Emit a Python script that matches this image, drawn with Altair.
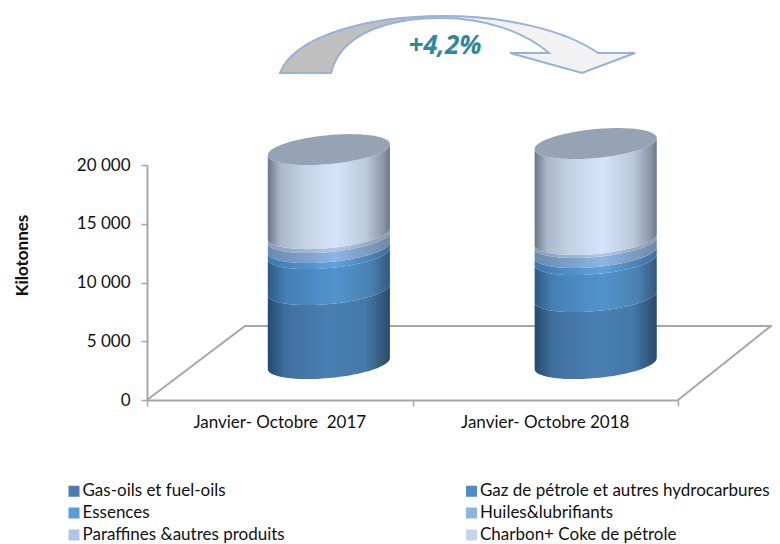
import math
import altair as alt
import pandas as pd

FONT = "Lato"
periods = ["Janvier- Octobre \u00a02017", "Janvier- Octobre 2018"]
label_pos = [0.5, 1.5]
cyl_center = [0.685, 1.69]
cyl_half = 0.23
series = ["Gas-oils et fuel-oils", "Gaz de pétrole et autres hydrocarbures", "Essences",
          "Huiles&lubrifiants", "Paraffines &autres produits", "Charbon+ Coke de pétrole"]
legend_order = [series[0], series[2], series[4], series[1], series[3], series[5]]
v2017 = [6300, 3060, 510, 850, 340, 7150]
v2018 = [5700, 3150, 600, 850, 255, 8170]
base_offset = 3100
legend_colors = ["#4a7bac", "#5b9bd5", "#adc6e5", "#4f8cc4", "#8eb4e0", "#c5d5ea"]
gradients = [
    [(0, "#254a6e"), (.15, "#3f709f"), (.5, "#4a7fb3"), (.8, "#4479a9"), (1, "#2c4a69")],
    [(0, "#2d5a85"), (.15, "#4580b4"), (.55, "#5293cd"), (.85, "#4a80b0"), (1, "#32587c")],
    [(0, "#3d78ae"), (.55, "#5ea3e0"), (1, "#3f6f9c")],
    [(0, "#6a89ad"), (.55, "#8eb4e3"), (1, "#6f8aa8")],
    [(0, "#8a9cb3"), (.55, "#b0c7e4"), (1, "#8898ad")],
    [(0, "#6b7686"), (.1, "#aab8ca"), (.3, "#c4d2e6"), (.55, "#d5e4fa"), (.8, "#bccadd"), (.95, "#8a96a8"), (1, "#6d7686")],
]
tilt = 5.5 * 85.1
sag = 14.5 * 85.1
ts = [-math.cos(math.pi * i / 60) for i in range(61)]

def grad(stops):
    return alt.LinearGradient(gradient="linear", x1=0, y1=0, x2=1, y2=0,
                              stops=[alt.GradientStop(offset=o, color=c) for o, c in stops])

rows, caps = [], []
for cyl, (center, vals) in enumerate(zip(cyl_center, [v2017, v2018])):
    low = base_offset
    for s, v in zip(series, vals):
        for t in ts:
            d = tilt * t - sag * math.sqrt(1 - t * t)
            rows.append(dict(s=s, c=cyl, x=center + cyl_half * t, y=low + d, y2=low + v + d))
        low += v
    for t in ts:
        r = math.sqrt(1 - t * t)
        caps.append(dict(c=cyl, x=center + cyl_half * t,
                         y=low + tilt * t - sag * r, y2=low + tilt * t + sag * r))
df = pd.DataFrame(rows)
X = alt.Scale(domain=[0, 2])
Y = alt.Scale(domain=[0, 20000])
GRAY = "#a6a6a6"

xenc = alt.X("x:Q", scale=X, axis=alt.Axis(values=[0, 1, 2], labels=False, title=None, grid=False,
                                           domainColor=GRAY, domainWidth=2, tickColor=GRAY, tickSize=6, tickWidth=1.5))
yenc = alt.Y("y:Q", scale=Y, axis=alt.Axis(values=[0, 5000, 10000, 15000, 20000], grid=False,
                                           labelExpr="replace(format(datum.value, ','), ',', ' ')",
                                           labelFont=FONT, labelFontSize=17, labelColor="#111111", labelPadding=11,
                                           domainColor=GRAY, domainWidth=2, tickColor=GRAY, tickSize=6, tickWidth=1.5,
                                           title="Kilotonnes", titleFont=FONT, titleFontSize=17, titleFontWeight="bold",
                                           titleColor="#111111", titleX=-116, titleY=90))

floor_x = [0, 0.369, 2.35, 2]
floor_y = [0, 6300, 6300, 0]
floor = alt.Chart(pd.DataFrame({"x": floor_x, "y": floor_y, "o": range(4)})).mark_line(
    color=GRAY, strokeWidth=2, clip=False).encode(xenc, yenc, order="o:Q")

layers = [floor]
for s, g in zip(series, gradients):
    layers.append(alt.Chart(df[df.s == s]).mark_area(color=grad(g), clip=False, line=False).encode(
        x=alt.X("x:Q", scale=X), y=alt.Y("y:Q", scale=Y), y2="y2:Q", detail="c:N"))
layers.append(alt.Chart(pd.DataFrame(caps)).mark_area(color="#96a3b5", clip=False).encode(
    x=alt.X("x:Q", scale=X), y=alt.Y("y:Q", scale=Y), y2="y2:Q", detail="c:N"))

labels = alt.Chart(pd.DataFrame({"x": label_pos, "t": periods})).mark_text(
    font=FONT, fontSize=17, color="#111111").encode(x=alt.X("x:Q", scale=X), y=alt.value(258), text="t:N")
layers.append(labels)

legend_df = pd.DataFrame({"s": series, "x": [0.0] * 6, "y": [0.0] * 6})
legend_layer = alt.Chart(legend_df).mark_square(opacity=0).encode(
    x=alt.X("x:Q", scale=X), y=alt.Y("y:Q", scale=Y),
    color=alt.Color("s:N", sort=legend_order, scale=alt.Scale(domain=legend_order, range=legend_colors),
                    legend=alt.Legend(title=None, orient="none", legendX=-81.5, legendY=317.5, columns=2,
                                      columnPadding=177.5, rowPadding=4, symbolType="square", symbolSize=121,
                                      symbolOpacity=1, symbolStrokeWidth=0, labelFont=FONT, labelFontSize=17,
                                      labelColor="#111111", labelOffset=0, labelLimit=400)))
layers.append(legend_layer)

path = ("M -0.89 0.145 C -0.815 -0.045 -0.44 -0.14 -0.075 -0.14 "
        "C 0.235 -0.14 0.535 -0.07 0.7 0.045 L 0.885 0.045 L 0.62 0.145 L 0.26 0.045 L 0.455 0.045 "
        "C 0.335 -0.06 0.135 -0.13 -0.08 -0.13 C -0.365 -0.13 -0.59 -0.045 -0.635 0.145 Z")
arrow_fill = alt.LinearGradient(gradient="linear", x1=0, y1=0, x2=1, y2=0, stops=[
    alt.GradientStop(offset=0, color="#bfbfbf"), alt.GradientStop(offset=0.39, color="#bfbfbf"),
    alt.GradientStop(offset=0.39, color="#f2f2f2"), alt.GradientStop(offset=1, color="#f2f2f2")])
one = pd.DataFrame({"a": [0]})
arrow = alt.Chart(one).mark_point(shape=path, size=400 * 400, fill=arrow_fill, filled=True, fillOpacity=1,
                                  stroke="#95b3d7", strokeWidth=2, opacity=1).encode(
    x=alt.value(311), y=alt.value(-121))
layers.append(arrow)
pct = alt.Chart(pd.DataFrame({"t": ["+4,2%"]})).mark_text(font="Open Sans", fontSize=26, fontWeight="bold", fontStyle="italic",
                                                         color="#31859c").encode(
    x=alt.value(298), y=alt.value(-119), text="t:N")
layers.append(pct)

chart = alt.layer(*layers).properties(
    width=531, height=235,
    autosize=alt.AutoSizeParams(type="none"),
    padding={"left": 139, "top": 157, "right": 94, "bottom": 144},
).configure_view(stroke=None)

chart.save("out.html", embed_options={"renderer": "svg", "actions": False})
